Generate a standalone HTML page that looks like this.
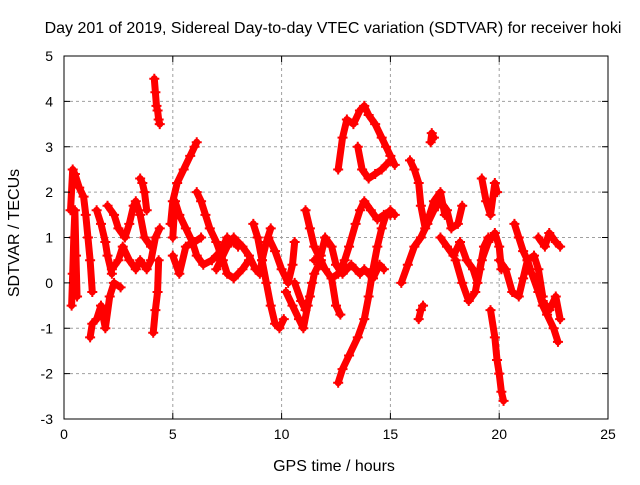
<!DOCTYPE html>
<html><head><meta charset="utf-8"><style>
body{margin:0;background:#fff;width:640px;height:480px;overflow:hidden}
text{font-family:"Liberation Sans",sans-serif;font-size:14px;fill:#000}
</style></head><body>
<svg id="chart" width="640" height="480" xmlns="http://www.w3.org/2000/svg">
<text x="333" y="33" text-anchor="middle" style="font-size:16px">Day 201 of 2019, Sidereal Day-to-day VTEC variation (SDTVAR) for receiver hoki</text>
<text x="334" y="471" text-anchor="middle" style="font-size:16px">GPS time / hours</text>
<text transform="translate(19,233) rotate(-90)" text-anchor="middle" style="font-size:16px">SDTVAR / TECUs</text>
<g id="grid"></g><g id="marks"></g>
<rect x="64" y="56" width="544" height="363" fill="none" stroke="#000" stroke-width="1"/>
<g id="ticks"></g>
</svg>
<script>
const xTicks=[0,5,10,15,20,25];
const yTicks=[-3,-2,-1,0,1,2,3,4,5];
const trackTimes=[
[0.3,0.4,0.5,0.7,0.9,1.0,1.1,1.2,1.3],
[0.35,0.4,0.45,0.5,0.55,0.6],
[1.2,1.3,1.5,1.7,1.9,2.1,2.3,2.6],
[1.5,1.7,1.9,2.0,2.2],
[2.0,2.3,2.5,2.8,3.0,3.2,3.3,3.5,3.7,4.0],
[2.2,2.5,2.7,3.0,3.3,3.5,3.8,4.0,4.2,4.4],
[3.5,3.6,3.7,3.8],
[4.15,4.2,4.25,4.3,4.35,4.4],
[4.1,4.2,4.3,4.35],
[4.9,5.0,5.2,5.5,5.8,6.0,6.1],
[5.0,5.1,5.3,5.6,5.9,6.1,6.4,6.8,7.2,7.5,7.8,8.0],
[5.0,5.3,5.6,6.0,6.3],
[6.1,6.3,6.5,6.7,7.0,7.3,7.5,7.8,8.2,8.5],
[7.0,7.5,7.8,8.2,8.5,8.8,9.0,9.1,9.3,9.5],
[8.7,8.9,9.1,9.3,9.5,9.7,9.9,10.1],
[9.4,9.7,10.0,10.3,10.5,10.6],
[10.2,10.5,10.8,11.0,11.2,11.4],
[10.6,10.9,11.1,11.3,11.5,11.8],
[11.1,11.3,11.5,11.8,12.0,12.3,12.5,12.7],
[11.5,11.8,12.0,12.3,12.5,12.8,13.0,13.2,13.4,13.6,13.8,14.0,14.2,14.5,14.7],
[12.6,12.8,13.1,13.5,13.8,14.0,14.2,14.4,14.6,14.8,15.0,15.2],
[12.3,12.6,12.9,13.1,13.4,13.6,13.8,14.1,14.4,14.7,15.0],
[12.6,12.8,13.0,13.3,13.6,13.8,14.0,14.3,14.6,14.8,15.0,15.2],
[13.5,13.7,14.0,14.3,14.6,15.0],
[15.9,16.1,16.3,16.4,16.6,16.8,17.0,17.3,17.5],
[16.3,16.4,16.5],
[16.85,16.9,17.0],
[15.5,15.8,16.1,16.4,16.7,17.0,17.3,17.6,17.8,18.1,18.3],
[17.3,17.6,17.9,18.2,18.5,18.8,19.0,19.2,19.5,19.8,20.0,20.1],
[18.0,18.3,18.6,18.9,19.1,19.3,19.5],
[19.2,19.4,19.6,19.8,19.9],
[19.6,19.8,19.9,20.0,20.1,20.2],
[20.7,20.9,21.1,21.3,21.5,21.8,22.0,22.2,22.5,22.7],
[20.0,20.3,20.6,20.9,21.1,21.3,21.6,21.8,22.0],
[21.8,22.1,22.3,22.6,22.8],
[22.0,22.3,22.6,22.8]];
const trackValues=[
[1.6,2.5,2.4,2.1,1.9,1.5,1.0,0.5,-0.2],
[-0.5,0.2,1.0,1.6,0.6,-0.3],
[-1.2,-0.9,-0.8,-0.5,-1.0,-0.3,0.0,-0.1],
[1.6,1.3,0.9,0.6,0.2],
[1.7,1.5,1.2,1.0,1.3,1.7,1.8,1.5,1.0,0.8],
[0.3,0.5,0.8,0.5,0.3,0.5,0.3,0.5,1.0,1.2],
[2.3,2.2,2.0,1.6],
[4.5,4.2,3.9,3.8,3.6,3.5],
[-1.1,-0.6,-0.2,0.5],
[1.3,1.8,2.2,2.5,2.8,3.0,3.1],
[1.0,1.8,1.5,1.2,0.9,0.6,0.4,0.5,0.7,1.0,0.9,0.8],
[0.6,0.2,0.8,0.9,1.0],
[2.0,1.8,1.5,1.2,0.9,0.5,0.2,0.1,0.3,0.5],
[0.3,0.8,1.0,0.8,0.6,0.3,0.2,0.5,0.9,1.2],
[1.3,1.0,0.5,0.0,-0.5,-0.9,-1.0,-0.8],
[1.0,0.7,0.3,0.0,0.4,0.9],
[-0.2,-0.5,-0.8,-1.0,-0.5,0.0],
[0.0,-0.4,-0.6,-0.3,0.2,0.5],
[1.6,1.2,0.8,0.5,0.3,0.1,-0.5,-0.7],
[0.5,0.6,1.0,0.8,0.4,0.2,0.3,0.4,0.3,0.2,0.3,0.2,0.1,0.4,0.3],
[-2.2,-1.9,-1.6,-1.2,-0.8,-0.3,0.3,0.8,1.2,1.5,1.6,1.5],
[0.1,0.2,0.5,0.8,1.3,1.6,1.8,1.6,1.4,1.5,1.5],
[2.5,3.2,3.6,3.5,3.8,3.9,3.7,3.5,3.2,3.0,2.8,2.6],
[3.0,2.5,2.3,2.4,2.5,2.7],
[2.7,2.5,2.2,1.7,1.2,1.5,1.8,2.0,1.5],
[-0.8,-0.6,-0.5],
[3.1,3.3,3.2],
[0.0,0.4,0.8,1.0,1.3,1.6,1.8,1.6,1.2,1.3,1.7],
[1.0,0.8,0.6,0.9,0.5,0.3,0.0,0.5,0.9,1.1,0.8,0.3],
[0.5,0.0,-0.4,-0.2,0.3,0.8,1.0],
[2.3,1.8,1.5,2.2,2.0],
[-0.6,-1.2,-1.7,-2.0,-2.4,-2.6],
[1.3,1.0,0.7,0.5,0.2,-0.2,-0.5,-0.7,-1.0,-1.3],
[0.5,0.3,-0.2,-0.3,0.1,0.5,0.6,0.3,-0.3],
[1.0,0.8,1.1,0.9,0.8],
[-0.4,-0.6,-0.3,-0.8]];
const X0=64,X1=608,Y0=419,Y1=56;
function xs(t){return X0+(t-0)/25*(X1-X0);}
function ys(v){return Y0-(v+3)/8*(Y0-Y1);}
const NS="http://www.w3.org/2000/svg";
const grid=document.getElementById('grid'),ticks=document.getElementById('ticks'),marks=document.getElementById('marks');
function mk(tag,attrs,parent){const e=document.createElementNS(NS,tag);for(const k in attrs)e.setAttribute(k,attrs[k]);parent.appendChild(e);return e;}
xTicks.forEach(t=>{const x=xs(t);
 if(t>0&&t<25){const g=mk('line',{x1:x,x2:x,y1:Y1,y2:Y0,stroke:'#a0a0a0','stroke-dasharray':'3,3'},grid);
 
 }
 mk('line',{x1:x,x2:x,y1:Y0,y2:Y0-6,stroke:'#000'},ticks);
 mk('line',{x1:x,x2:x,y1:Y1,y2:Y1+6,stroke:'#000'},ticks);
 const l=mk('text',{x:x,y:Y0+20,'text-anchor':'middle'},ticks);l.textContent=t;
 
 });
yTicks.forEach(v=>{const y=ys(v);
 if(v>-3&&v<5){const g=mk('line',{x1:X0,x2:X1,y1:y,y2:y,stroke:'#a0a0a0','stroke-dasharray':'3,3'},grid);
 
 }
 mk('line',{x1:X0,x2:X0+6,y1:y,y2:y,stroke:'#000'},ticks);
 mk('line',{x1:X1,x2:X1-6,y1:y,y2:y,stroke:'#000'},ticks);
 const l=mk('text',{x:X0-11,y:y+5,'text-anchor':'end'},ticks);l.textContent=v;
 
 });
trackTimes.forEach((ts,i)=>{const vs=trackValues[i];
 const pts=ts.map((t,j)=>xs(t)+','+ys(vs[j])).join(' ');
 const pl=mk('polyline',{points:pts,fill:'none',stroke:'#f00','stroke-width':7,'stroke-linejoin':'round','stroke-linecap':'round'},marks);
 
 
 ts.forEach((t,j)=>{const x=xs(t),y=ys(vs[j]);
  const p=mk('path',{d:`M${x-5},${y}H${x+5}M${x},${y-5}V${y+5}`,stroke:'#f00','stroke-width':2},marks);
  
  });});
</script>
</body></html>
